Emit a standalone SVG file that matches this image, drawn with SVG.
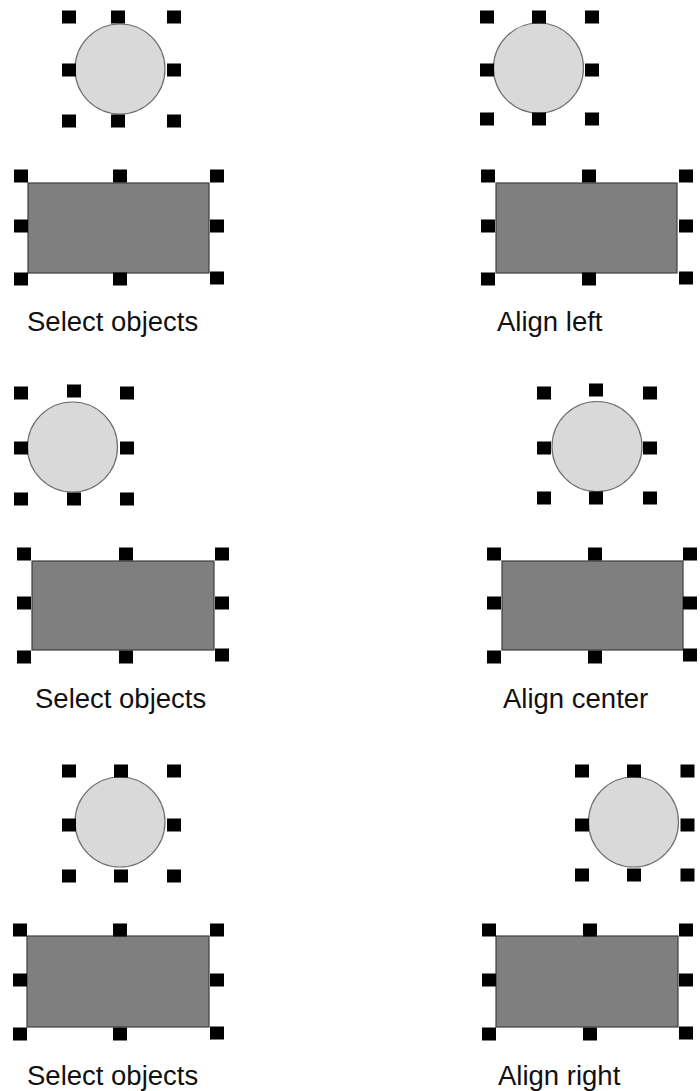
<svg xmlns="http://www.w3.org/2000/svg" xmlns:xlink="http://www.w3.org/1999/xlink" width="700" height="1091" viewBox="0 0 700 1091">
<style>
.circ{fill:#d9d9d9;stroke:#6e6e6e;stroke-width:1.2}
.box{fill:#7f7f7f;stroke:#3f3f3f;stroke-width:1.2}
.lbl{font-family:"Liberation Sans",Arial,sans-serif;font-size:27.5px;fill:#111}
</style>
<defs>
<rect id="h" x="-7" y="-6.5" width="14" height="13" fill="#000"/>
</defs>
<rect width="700" height="1091" fill="#fff"/>

<g id="p1-circle">
<circle class="circ" cx="120" cy="69" r="45"/>
<use href="#h" x="69" y="17"/><use href="#h" x="118" y="17"/><use href="#h" x="174" y="17"/>
<use href="#h" x="69" y="70"/><use href="#h" x="174" y="70"/>
<use href="#h" x="69" y="121"/><use href="#h" x="118" y="121"/><use href="#h" x="174" y="121"/>
</g>
<g id="p1-rect">
<rect class="box" x="28" y="183" width="181" height="90"/>
<use href="#h" x="21" y="176"/><use href="#h" x="120" y="176"/><use href="#h" x="217" y="176"/>
<use href="#h" x="21" y="226"/><use href="#h" x="217" y="226"/>
<use href="#h" x="21" y="279"/><use href="#h" x="120" y="279"/><use href="#h" x="217" y="278"/>
</g>
<g id="p1-label"><text class="lbl" x="27" y="331">Select objects</text></g>

<g id="p2-circle">
<circle class="circ" cx="538.5" cy="68" r="45"/>
<use href="#h" x="487" y="17"/><use href="#h" x="539" y="17"/><use href="#h" x="592" y="17"/>
<use href="#h" x="487" y="70"/><use href="#h" x="592" y="70"/>
<use href="#h" x="487" y="119"/><use href="#h" x="539" y="119"/><use href="#h" x="592" y="119"/>
</g>
<g id="p2-rect">
<rect class="box" x="496" y="183" width="181" height="90"/>
<use href="#h" x="488" y="176"/><use href="#h" x="589" y="176"/><use href="#h" x="686" y="176"/>
<use href="#h" x="488" y="226"/><use href="#h" x="686" y="226"/>
<use href="#h" x="488" y="279"/><use href="#h" x="589" y="279"/><use href="#h" x="686" y="278"/>
</g>
<g id="p2-label"><text class="lbl" x="497" y="331">Align left</text></g>

<g id="p3-circle">
<circle class="circ" cx="72.5" cy="447" r="45"/>
<use href="#h" x="21" y="393"/><use href="#h" x="74" y="391"/><use href="#h" x="127" y="393"/>
<use href="#h" x="21" y="448"/><use href="#h" x="127" y="448"/>
<use href="#h" x="21" y="499"/><use href="#h" x="74" y="499"/><use href="#h" x="127" y="499"/>
</g>
<g id="p3-rect">
<rect class="box" x="32" y="561" width="182" height="89"/>
<use href="#h" x="24" y="554"/><use href="#h" x="126" y="554"/><use href="#h" x="222" y="554"/>
<use href="#h" x="24" y="603"/><use href="#h" x="222" y="603"/>
<use href="#h" x="24" y="657"/><use href="#h" x="126" y="657"/><use href="#h" x="222" y="655"/>
</g>
<g id="p3-label"><text class="lbl" x="35" y="708">Select objects</text></g>

<g id="p4-circle">
<circle class="circ" cx="597" cy="446.5" r="45"/>
<use href="#h" x="544" y="393"/><use href="#h" x="596" y="390"/><use href="#h" x="650" y="393"/>
<use href="#h" x="544" y="448"/><use href="#h" x="650" y="448"/>
<use href="#h" x="544" y="498"/><use href="#h" x="596" y="498"/><use href="#h" x="650" y="498"/>
</g>
<g id="p4-rect">
<rect class="box" x="502" y="561" width="181" height="89"/>
<use href="#h" x="494" y="554"/><use href="#h" x="595" y="554"/><use href="#h" x="690" y="554"/>
<use href="#h" x="494" y="603"/><use href="#h" x="690" y="603"/>
<use href="#h" x="494" y="657"/><use href="#h" x="595" y="657"/><use href="#h" x="690" y="655"/>
</g>
<g id="p4-label"><text class="lbl" x="503" y="708">Align center</text></g>

<g id="p5-circle">
<circle class="circ" cx="120" cy="822" r="45"/>
<use href="#h" x="69" y="771"/><use href="#h" x="121" y="771"/><use href="#h" x="174" y="771"/>
<use href="#h" x="69" y="825"/><use href="#h" x="174" y="825"/>
<use href="#h" x="69" y="876"/><use href="#h" x="121" y="876"/><use href="#h" x="174" y="876"/>
</g>
<g id="p5-rect">
<rect class="box" x="27" y="936" width="182" height="91"/>
<use href="#h" x="20" y="930"/><use href="#h" x="120" y="930"/><use href="#h" x="217" y="930"/>
<use href="#h" x="20" y="980"/><use href="#h" x="217" y="980"/>
<use href="#h" x="20" y="1034"/><use href="#h" x="120" y="1034"/><use href="#h" x="217" y="1033"/>
</g>
<g id="p5-label"><text class="lbl" x="27" y="1085">Select objects</text></g>

<g id="p6-circle">
<circle class="circ" cx="633.5" cy="822" r="45"/>
<use href="#h" x="582" y="771"/><use href="#h" x="634" y="771"/><use href="#h" x="687.5" y="771"/>
<use href="#h" x="582" y="825"/><use href="#h" x="687.5" y="825"/>
<use href="#h" x="582" y="875"/><use href="#h" x="634" y="875"/><use href="#h" x="687.5" y="875"/>
</g>
<g id="p6-rect">
<rect class="box" x="496" y="936" width="182" height="91"/>
<use href="#h" x="489" y="930"/><use href="#h" x="590" y="930"/><use href="#h" x="686" y="930"/>
<use href="#h" x="489" y="980"/><use href="#h" x="686" y="980"/>
<use href="#h" x="489" y="1034"/><use href="#h" x="590" y="1034"/><use href="#h" x="686" y="1033"/>
</g>
<g id="p6-label"><text class="lbl" x="498" y="1085">Align right</text></g>
</svg>
